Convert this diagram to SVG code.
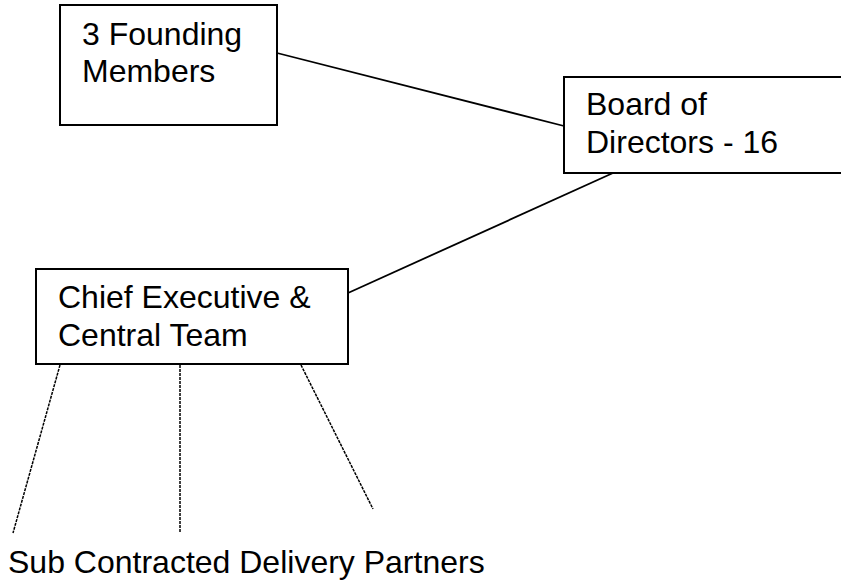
<svg xmlns="http://www.w3.org/2000/svg" width="841" height="584" viewBox="0 0 841 584">
  <style>
    .box { fill: #ffffff; stroke: #000000; stroke-width: 2; }
    .label { font-family: "Liberation Sans", Arial, sans-serif; font-size: 32px; fill: #000000; }
    .link { stroke: #000000; stroke-width: 1.8; fill: none; }
    .partner { stroke: #000000; stroke-width: 1.5; stroke-dasharray: 3 1; fill: none; }
  </style>
  <rect width="841" height="584" fill="#ffffff"/>

  <g id="connectors">
    <line class="link" x1="277" y1="53" x2="564" y2="126"/>
    <line class="link" x1="613" y1="173" x2="348" y2="293"/>
    <line class="partner" x1="60" y1="365" x2="13" y2="533"/>
    <line class="partner" x1="180" y1="365" x2="180" y2="532"/>
    <line class="partner" x1="301" y1="365" x2="373" y2="509"/>
  </g>

  <g id="founding-members">
    <rect class="box" x="60" y="5" width="217" height="120"/>
    <text class="label" x="82" y="45">3 Founding</text>
    <text class="label" x="82" y="82">Members</text>
  </g>

  <g id="board-of-directors">
    <rect class="box" x="564" y="77" width="290" height="96"/>
    <text class="label" x="586" y="115">Board of</text>
    <text class="label" x="586" y="153">Directors - 16</text>
  </g>

  <g id="chief-executive">
    <rect class="box" x="36" y="269" width="312" height="95"/>
    <text class="label" x="58" y="308">Chief Executive &amp;</text>
    <text class="label" x="58" y="346">Central Team</text>
  </g>

  <g id="delivery-partners">
    <text class="label" x="8" y="573">Sub Contracted Delivery Partners</text>
  </g>
</svg>
